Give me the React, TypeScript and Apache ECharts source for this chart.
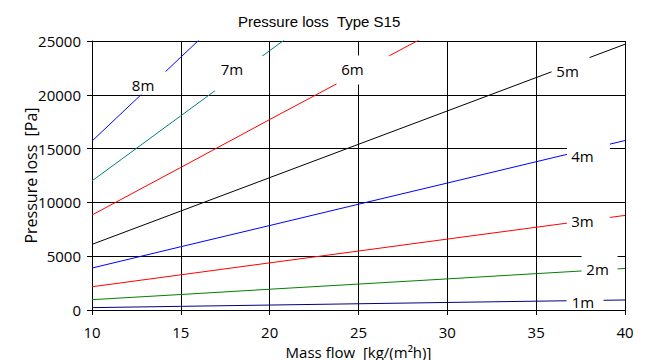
import React, { useEffect, useRef } from "react";
import * as echarts from "echarts";

// Mass flow values [kg/(m²h)] at which the curves are read
const massFlow = [10, 15, 20, 25, 30, 35, 40];

// Pressure loss [Pa] per pipe length
const p1m = [220, 340, 460, 580, 700, 820, 930];
const p2m = [960, 1440, 1930, 2410, 2890, 3380, 3860];
const p3m = [2160, 3270, 4380, 5480, 6590, 7690, 8790];
const p4m = [3900, 5880, 7850, 9830, 11800, 13780, 15750];
const p5m = [6100, 9200, 12300, 15400, 18500, 21600, 24700];
const p6m = [8830, 13250, 17700, 22100, 26500];
const p7m = [12000, 18050, 24100, 30150];
const p8m = [15700, 23500, 31300];

const seriesNames = ["1m", "2m", "3m", "4m", "5m", "6m", "7m", "8m"];
const seriesValues = [p1m, p2m, p3m, p4m, p5m, p6m, p7m, p8m];
const seriesColors = ["#000080", "#008000", "#ff0000", "#0000ff", "#000000", "#ff0000", "#008080", "#0000ff"];

// Label boxes (in data coordinates) with their size in px and text offset
const labelBoxes = [
  { coord: [37.75, 976], size: [37, 20], offset: [-2, 3] },
  { coord: [38.57, 3903], size: [36, 26], offset: [-2, 1] },
  { coord: [37.94, 8272], size: [43, 24], offset: [-6, 0] },
  { coord: [37.94, 14406], size: [43, 24], offset: [-6, 1.5] },
  { coord: [36.935, 22491], size: [38, 24], offset: [-3, 3.5] },
  { coord: [25.25, 22306], size: [53, 29], offset: [-10.5, -1] },
  { coord: [18.33, 21980], size: [50, 35], offset: [-8, -4.5] },
  { coord: [13.1, 21097], size: [38, 23], offset: [-4, 2.5] },
];

const sansFont = "'Open Sans', 'Noto Sans', sans-serif";

export default function App() {
  const ref = useRef<HTMLDivElement>(null);
  useEffect(() => {
    if (!ref.current) return;
    const chart = echarts.init(ref.current, null, { renderer: "svg" });
    const series = seriesNames.map((name, i) => ({
      name,
      type: "line",
      showSymbol: false,
      symbol: "none",
      clip: true,
      silent: true,
      lineStyle: { color: seriesColors[i], width: 1 },
      itemStyle: { color: seriesColors[i] },
      data: seriesValues[i].map((v, j) => [massFlow[j], v]),
      markPoint: {
        silent: true,
        symbol: "rect",
        symbolSize: labelBoxes[i].size,
        itemStyle: { color: "#ffffff", borderWidth: 0 },
        label: {
          show: true,
          position: "inside",
          formatter: name,
          color: "#000",
          fontFamily: sansFont,
          fontSize: 15,
          offset: labelBoxes[i].offset,
        },
        data: [{ name, coord: labelBoxes[i].coord }],
      },
    }));
    chart.setOption({
      animation: false,
      backgroundColor: "#ffffff",
      title: {
        text: "Pressure loss  Type S15",
        left: 238,
        top: 14,
        padding: 0,
        textStyle: { fontFamily: "'Liberation Sans', Arial, sans-serif", fontSize: 15, fontWeight: "normal", color: "#000" },
      },
      grid: { left: 92, right: 28, top: 41, bottom: 50, outerBoundsMode: "none", containLabel: false },
      xAxis: {
        type: "value",
        min: 10,
        max: 40,
        interval: 5,
        name: "Mass flow  [kg/(m²h)]",
        nameLocation: "middle",
        nameGap: 34,
        nameMoveOverlap: false,
        nameTextStyle: { fontFamily: sansFont, fontSize: 15, lineHeight: 15, color: "#000" },
        axisLine: { show: true, onZero: false, lineStyle: { color: "#000", width: 1 } },
        axisTick: { show: true, length: 5, lineStyle: { color: "#000" } },
        axisLabel: { margin: 15, fontFamily: sansFont, fontSize: 15, lineHeight: 14, color: "#000" },
        splitLine: { show: true, lineStyle: { color: "#000", width: 1 } },
      },
      yAxis: {
        type: "value",
        min: 0,
        max: 25000,
        interval: 5000,
        name: "Pressure loss  [Pa]",
        nameLocation: "middle",
        nameGap: 53,
        nameMoveOverlap: false,
        nameTextStyle: { fontFamily: sansFont, fontSize: 16, color: "#000" },
        axisLine: { show: true, onZero: false, lineStyle: { color: "#000", width: 1 } },
        axisTick: { show: true, length: 5, lineStyle: { color: "#000" } },
        axisLabel: {
          margin: 11,
          fontFamily: sansFont,
          fontSize: 15,
          color: "#000",
          formatter: (v: number) => String(v),
        },
        splitLine: { show: true, lineStyle: { color: "#000", width: 1 } },
      },
      series,
    });
    return () => chart.dispose();
  }, []);
  return (
    <div
      ref={ref}
      style={{ position: "absolute", left: 0, top: 0, width: 653, height: 360, background: "#fff" }}
    />
  );
}
